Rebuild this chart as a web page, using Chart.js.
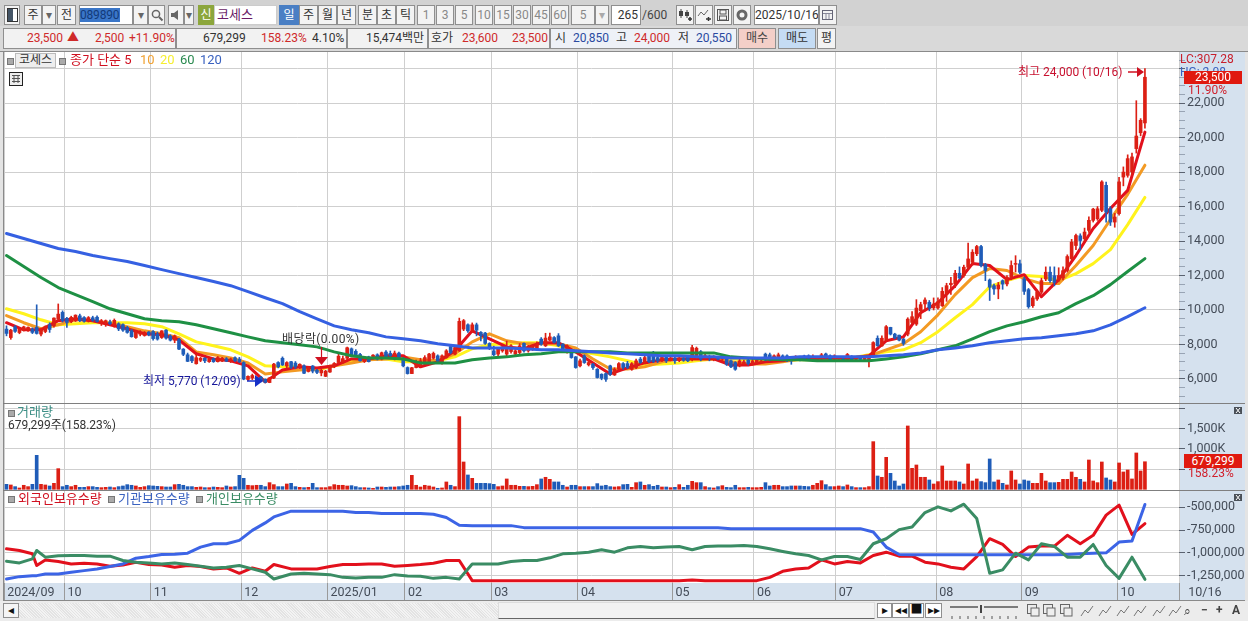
<!DOCTYPE html>
<html lang="ko"><head><meta charset="utf-8"><title>코세스</title>
<script src="https://cdn.jsdelivr.net/npm/chart.js@4"></script>
<style>
html,body{margin:0;padding:0;width:1248px;height:621px;overflow:hidden;background:#e4e4e4;font-family:Roboto,"Noto Sans CJK KR",sans-serif;font-size:12px}
#root{position:absolute;left:0;top:0;width:1248px;height:621px}
canvas{position:absolute;left:0;display:block}
.t{position:absolute;white-space:nowrap;line-height:14px}
.b{position:absolute;box-sizing:border-box;white-space:nowrap;text-align:center;border:1px solid #8f8f8f;background:#f3f3f3;color:#333;line-height:18px;overflow:hidden}
.sq{position:absolute;width:5px;height:5px;background:#aaa;border:1px solid #777}
svg{position:absolute;overflow:visible}
</style></head><body><div id="root">
<canvas id="pricePanel" width="1245" height="352" style="top:52px;width:1245px;height:352px"></canvas>
<canvas id="volumePanel" width="1245" height="86" style="top:404px;width:1245px;height:86px"></canvas>
<canvas id="holdPanel" width="1245" height="109" style="top:491px;width:1245px;height:109px"></canvas>
</div>
<script>
// ---- candle values, one per trading day ----
const opens=[
8890,8400,9020,8690,8830,8830,8890,8990,8600,8750,
9140,9090,9470,9860,9510,9320,9370,9660,9560,9360,
9550,9580,9300,9200,9310,9100,9200,9150,8980,8800,
8400,8600,8520,8720,8750,8600,8400,8830,8490,8250,
8300,7730,7400,7300,6880,7080,7200,7000,7180,7000,
7040,7170,7000,7230,7150,6950,5970,6060,6000,6100,
5980,5790,6060,6950,7200,6750,7000,6920,6700,6760,
6430,6750,6500,6350,6150,6400,6700,6950,7000,7200,
7750,7600,7420,7000,7280,7300,7400,7150,7560,7480,
7180,7500,7150,6660,6310,6660,6760,6850,6950,7200,
7340,6900,7240,7880,7440,7630,8890,9140,8830,9140,
8700,8660,8060,7630,7440,7630,7440,7590,7440,7530,
8060,7630,7730,7790,8310,7920,8250,8400,8500,8020,
7590,7630,7280,6760,7340,6820,6850,6560,6270,6310,
6760,6230,6560,6890,6890,6560,6660,7150,6950,7530,
7440,7240,7100,7250,7100,7200,7060,7200,7280,7150,
7240,7580,7200,7300,7150,7250,7150,7150,7050,6950,
6760,6850,7090,6860,6900,6950,7440,7400,7090,7090,
7340,7340,7240,7130,7240,7330,7340,7120,7100,7160,
7450,7340,7150,7200,7150,7120,7300,7130,7200,7130,
7100,7340,8360,7920,8250,8990,8600,8540,8310,8600,
9280,9180,9960,10350,10440,10120,10120,10250,10930,11470,
11510,12130,11990,12480,12770,13260,13680,12640,11740,11410,
11220,11700,11510,11900,12650,12680,11800,11180,10250,10640,
11030,11800,12190,11990,11750,11860,12290,12970,13740,14300,
14130,14620,15200,15290,15780,17230,15870,15100,15590,17710,
17810,18010,19360,20280,20850];
const highs=[
9080,8880,9100,8900,9060,9020,8960,10300,8920,9080,
9260,9550,10350,9950,9580,9640,9720,9760,9620,9620,
9640,9660,9450,9420,9420,9480,9260,9200,9050,8880,
8820,8800,8750,8750,8800,8720,8800,8860,8560,8550,
8350,7760,7500,7350,7420,7250,7240,7200,7220,7300,
7250,7240,7210,7280,7250,7000,6180,6280,6080,6150,
6000,6080,6900,7000,7280,7000,7020,7010,6880,6820,
6700,6780,6560,6600,6500,6800,6950,7500,7320,7850,
7800,7700,7480,7300,7320,7420,7460,7560,7650,7620,
7620,7560,7250,6700,6680,7100,7200,7350,7480,7560,
7400,7400,7700,7950,7900,9530,9450,9200,9250,9240,
8750,8700,8100,7900,7800,7900,8200,8000,7700,8050,
8100,7950,8000,8150,8400,8650,8660,8450,8630,8050,
7980,7700,7300,7150,7400,7050,6900,6600,6300,6350,
6800,6650,6950,6950,7020,6950,7150,7250,7350,7550,
7600,7300,7350,7300,7280,7250,7260,7240,7340,7950,
7850,7650,7450,7380,7350,7300,7300,7220,7100,7000,
7200,7100,7150,7200,7200,7150,7500,7500,7400,7500,
7400,7400,7300,7350,7300,7380,7400,7400,7300,7480,
7500,7400,7400,7300,7200,7480,7350,7260,7280,7280,
7350,8160,8500,8500,9100,9000,8650,8550,8350,9550,
9900,10600,10450,10700,10550,10700,10700,11300,11550,11900,
12300,12500,12600,13880,13500,13750,13750,12700,11800,11500,
11600,11750,12000,12850,13150,12900,11900,11250,10800,11150,
11850,12500,12500,12500,12450,12500,13200,14100,14400,14420,
14750,15400,15900,16000,17500,17420,16000,15600,17700,18300,
19000,19100,22140,21100,24000];
const lows=[
8500,8300,8700,8620,8780,8750,8630,8600,8500,8680,
8700,9000,9400,9300,8990,9260,9330,9320,9300,9300,
9340,9300,9100,9050,9140,9000,8800,8750,8650,8420,
8350,8500,8480,8500,8250,8250,8350,8300,8200,8100,
7700,7350,7000,6950,6860,7000,6950,6960,6960,6980,
7000,7000,6950,7000,6950,5950,5900,5960,5880,5830,
5770,5780,6020,6640,6780,6600,6600,6600,6600,6300,
6400,6350,6300,6180,6130,6380,6650,6900,6900,7100,
7300,7300,7030,6950,6980,7150,7100,7100,7200,7300,
7100,7200,6700,6280,6300,6640,6700,6800,6850,7150,
7000,6850,7200,7450,7400,7600,8800,8700,8700,8500,
8200,8000,7700,7350,7350,7550,7350,7500,7350,7450,
7550,7550,7650,7700,7950,7880,8200,8080,7880,7600,
7500,7200,6620,6700,6900,6750,6550,6050,5950,5860,
6200,6200,6500,6550,6600,6500,6600,6900,6900,6950,
6950,6950,7000,6950,7050,6900,7000,7020,7000,7050,
7150,7050,7150,7050,7050,7100,7000,6780,6650,6500,
6700,6800,6800,6800,6850,6900,7050,7050,7000,7050,
7050,7000,6850,7080,7050,7100,7100,7060,7040,7100,
7200,7050,7100,7120,7050,7000,7050,7080,7100,7080,
6700,7300,7900,7880,8200,8550,8320,8200,7950,8500,
9200,9100,9500,9950,9950,10000,10050,10200,10500,10900,
11300,11800,11900,12350,12600,13150,12500,11700,10550,10900,
10650,11200,11400,11750,12200,12100,10900,10100,10150,10550,
10950,11700,11600,11400,11650,11750,12200,12900,13500,13500,
13950,14500,15100,15200,15700,15100,14900,14800,15500,17200,
17700,17800,19100,20100,20550];
const closes=[
8640,8830,8760,8880,9020,8990,8700,8640,8890,9030,
8870,9530,9760,9380,9280,9570,9700,9380,9350,9560,
9400,9330,9380,9380,9200,9400,8900,8830,8700,8450,
8780,8720,8700,8560,8340,8310,8790,8370,8250,8500,
7730,7430,7020,7050,7230,7200,7050,7150,7000,7240,
7200,7030,7160,7060,7000,5990,6150,6200,6080,5880,
5800,6060,6860,6700,6810,6950,6680,6700,6850,6330,
6650,6450,6380,6500,6450,6760,6900,7320,7180,7810,
7340,7400,7050,7250,7000,7380,7150,7520,7250,7350,
7500,7250,6760,6310,6650,6990,7050,7240,7440,7480,
7050,7340,7630,7530,7820,9340,9380,8790,9140,8830,
8500,8060,7820,7400,7730,7860,7820,7920,7630,7920,
7630,7820,7920,8020,8020,8370,8440,8120,7920,7670,
7920,7240,6660,7050,6950,6950,6660,6080,6040,5980,
6270,6560,6890,6660,6660,6890,7050,6950,7240,7000,
7010,7050,7250,7050,7220,7050,7200,7080,7050,7820,
7780,7150,7350,7220,7280,7150,7200,6850,6700,6560,
7050,7000,6890,7050,7090,7050,7090,7090,7340,7400,
7090,7120,7050,7280,7090,7150,7200,7300,7230,7400,
7230,7120,7340,7230,7100,7420,7100,7200,7130,7230,
7300,8110,7920,8360,9030,8600,8370,8250,8060,9470,
9610,10110,10310,10580,10120,10350,10480,11080,11410,11550,
12130,11860,12480,12960,13350,13680,12580,12290,11320,11220,
11450,11500,11900,12580,12700,12190,11080,10190,10700,11030,
11700,12190,11700,11600,12000,12280,13100,13940,14320,14030,
14520,15200,15850,15870,17430,15680,15100,15390,17430,18000,
18780,18880,20090,21000,23500];
// ---- volume in thousands of shares ----
const volumeK=[
123,107,66,33,99,66,123,837,123,107,
82,148,509,66,99,66,99,49,49,66,
66,49,41,49,57,41,66,82,115,99,
82,49,66,90,82,74,66,57,57,115,
123,99,66,66,49,57,41,41,57,49,
41,82,57,66,345,271,99,90,99,99,
66,164,115,66,66,131,148,66,49,41,
49,148,41,41,41,66,115,99,99,82,
90,66,41,41,33,25,57,57,49,57,
57,66,82,99,345,99,57,99,82,57,
25,33,181,99,66,1790,673,353,271,148,
148,148,140,123,66,82,255,99,99,74,
74,66,74,115,255,296,246,181,181,99,
57,99,99,66,66,66,66,140,82,99,
66,57,66,115,123,49,164,181,99,115,
74,99,57,57,41,49,115,49,99,197,
164,164,66,41,33,66,90,49,41,99,
41,41,49,41,41,49,164,82,99,99,
66,66,82,82,82,74,66,99,148,213,
115,66,66,82,66,107,66,41,41,41,
66,1174,328,296,788,394,205,82,131,1560,
517,599,296,296,230,131,189,575,205,205,
205,181,131,624,205,255,189,164,747,181,
230,148,107,452,230,131,230,205,148,148,
394,205,164,164,172,246,246,427,296,246,
181,722,205,164,673,279,230,181,649,427,
476,255,895,452,679.299];
// ---- moving averages, read every fourth trading day ----
const lineDays=[0,4,8,12,16,20,24,28,32,36,40,44,48,52,56,60,64,68,72,76,80,84,88,92,96,100,104,108,112,116,120,124,128,132,136,140,144,148,152,156,160,164,168,172,176,180,184,188,192,196,200,204,208,212,216,220,224,228,232,236,240,244,248,252,256,260,264];
const ma5=[9260,8850,8850,9380,9490,9380,9140,8910,8620,8560,
8270,7460,7160,7050,6760,5830,6520,6700,6640,6760,
7160,7160,7340,7340,6700,6990,7630,8790,8330,7860,
7750,8100,8100,7570,6930,6290,6640,6930,7110,7160,
7160,7160,6810,6810,6990,7050,7220,7220,7220,7220,
7340,8210,8440,9840,10420,11410,12690,12580,11760,12050,
10770,11760,13160,14730,15890,16940,20320];
const ma10=[9670,9260,8910,9140,9430,9380,9200,9030,8790,8620,
8390,7570,7400,7220,6930,6290,6410,6520,6580,6760,
6930,7110,7160,7280,7110,7050,7460,8150,8620,8210,
8040,8040,8040,7800,7160,6580,6580,6700,6990,7160,
7220,7220,6990,6870,6870,6990,7160,7160,7160,7220,
7340,7690,8040,8740,9720,10890,11880,12400,12290,11820,
11530,11530,12580,13740,15250,16710,18400];
const ma20=[10070,9780,9430,9140,9200,9260,9260,9260,9200,9030,
8620,8150,7920,7690,7280,6760,6700,6700,6520,6760,
7050,7160,7160,6990,6990,7050,7280,7750,7980,8040,
8100,8100,7920,7630,7460,7280,7050,6810,6870,6930,
7050,7160,7160,7110,7050,7050,7110,7110,7160,7220,
7400,7570,7690,8100,8740,9550,10310,11350,11700,12000,
11940,11700,12110,12690,13500,14950,16530];
const ma60=[13160,12520,11880,11300,10890,10480,10070,9780,9490,9380,
9320,9140,8910,8680,8440,8210,8100,7980,7860,7570,
7340,7220,7220,7160,6930,6930,6930,7110,7220,7280,
7400,7460,7570,7570,7570,7570,7510,7510,7510,7510,
7510,7510,7280,7220,7160,7110,7110,7050,7050,7050,
7050,7160,7280,7460,7690,7920,8330,8740,9080,9320,
9610,9840,10370,10830,11470,12230,12980];
const ma120=[14440,14150,13860,13570,13390,13160,12980,12810,12580,12340,
12110,11880,11650,11410,11060,10710,10370,9900,9490,9080,
8850,8680,8440,8330,8210,8040,7920,7800,7800,7800,
7750,7690,7690,7630,7570,7510,7460,7400,7340,7340,
7280,7280,7220,7220,7220,7220,7280,7280,7280,7280,
7280,7340,7400,7510,7690,7800,7920,8100,8210,8330,
8390,8500,8620,8790,9140,9610,10130];
// ---- holdings in thousands of shares ----
const holdDays=[0,3,6,7,9,12,15,18,21,24,
27,30,33,36,39,42,45,48,51,54,
57,60,62,66,69,72,75,78,81,84,
87,90,93,96,99,102,105,108,111,114,
117,120,123,126,129,132,135,138,141,144,
147,150,153,156,159,162,165,168,171,174,
177,180,183,186,189,192,195,198,201,204,
207,210,213,216,219,222,225,228,231,234,
237,240,243,246,249,252,255,258,261,264];
const foreignHold=[-956,-974,-1011,-1140,-1078,-1096,-1122,-1114,-1122,-1148,
-1133,-1103,-1129,-1133,-1159,-1140,-1151,-1177,-1166,-1225,
-1166,-1203,-1129,-1177,-1177,-1177,-1151,-1129,-1129,-1122,
-1122,-1148,-1140,-1129,-1114,-1085,-1085,-1306,-1306,-1306,
-1306,-1306,-1306,-1306,-1306,-1306,-1306,-1306,-1306,-1306,
-1306,-1306,-1306,-1306,-1300,-1306,-1306,-1306,-1306,-1306,
-1270,-1203,-1177,-1166,-1078,-1122,-1096,-1111,-1030,-993,
-1037,-1037,-1103,-1122,-1159,-1177,-1041,-845,-908,-1041,
-937,-926,-926,-808,-900,-808,-586,-476,-797,-679];
const institutionHold=[-1288,-1262,-1251,-1251,-1233,-1233,-1214,-1196,-1177,-1151,
-1122,-1059,-1041,-1018,-1015,-1004,-937,-900,-900,-863,
-753,-671,-605,-542,-542,-542,-542,-542,-557,-557,
-568,-568,-568,-568,-575,-612,-697,-701,-701,-701,
-701,-723,-723,-723,-723,-723,-723,-723,-723,-723,
-723,-723,-723,-723,-723,-723,-723,-734,-734,-734,
-734,-734,-734,-734,-734,-734,-734,-734,-771,-937,
-1018,-1022,-1022,-1022,-1022,-1022,-1022,-1022,-1022,-1022,
-1022,-1022,-1022,-1018,-1011,-1004,-1000,-882,-871,-468];
const individualHold=[-1092,-1111,-1066,-974,-1048,-1033,-1030,-1030,-1037,-1037,
-1085,-1103,-1111,-1122,-1111,-1129,-1148,-1166,-1159,-1140,
-1177,-1214,-1288,-1233,-1225,-1233,-1240,-1270,-1277,-1270,
-1270,-1240,-1255,-1258,-1281,-1270,-1288,-1122,-1122,-1122,
-1096,-1085,-1085,-1055,-1011,-1004,-993,-967,-993,-945,
-930,-945,-937,-930,-967,-930,-926,-926,-919,-930,
-956,-985,-1011,-1030,-1078,-1041,-1041,-1074,-900,-845,
-745,-716,-557,-494,-539,-465,-623,-1225,-1188,-1004,
-1078,-900,-930,-1048,-1048,-908,-1140,-1281,-1048,-1292];
// ---- axes ----
const monthTicks=[-0.55,13.4,33.4,54.4,74.4,92.4,112.4,132.5,154.4,173.3,192.3,215.6,235.4,257.6,271.9];
const monthLabels=[' 2024/09',' 10',' 11',' 12',' 2025/01',' 02',' 03',' 04',' 05',' 06',' 07',' 08',' 09',' 10','   10/16'];
const priceLabels=[6000,8000,10000,12000,14000,16000,18000,20000,22000];
const priceGrid=[6000,8000,10000,12000,14000,16000,18000,20000,22000,24000];
const priceMinor=[5000,5500,6500,7000,7500,8500,9000,9500,10500,11000,11500,12500,13000,13500,14500,15000,15500,16500,17000,17500,18500,19000,19500,20500,21000,21500,22500,23000,23500,24500];
const volumeTicks=[500,1000,1500,2000];
const volumeLabels=[1000,1500];
const holdTicks=[-500,-750,-1000,-1250];

const RED='#dc1f14',BLUE='#1f5cb8',GRID='#cfcfcf',AXISBG='#d5e1ee',AXISTXT='#444c58';
const FONT='Roboto,"Noto Sans CJK KR",sans-serif';
Chart.defaults.font.family=FONT;Chart.defaults.font.size=12;Chart.defaults.color=AXISTXT;
const up=i=>closes[i]>=opens[i];
const days=closes.map((_,i)=>i);
const colors=days.map(i=>up(i)?RED:BLUE);
const xMin=-0.58,xMax=271.9;
const noPad=s=>{s.paddingTop=s.paddingBottom=s.paddingLeft=s.paddingRight=0};
const axisBg={id:'axisBg',beforeDraw(c){const g=c.ctx,a=c.chartArea;g.save();
  g.fillStyle='#fff';g.fillRect(a.left,a.top,a.right-a.left,a.bottom-a.top);
  g.fillStyle=AXISBG;g.fillRect(a.right,0,c.width-a.right,c.height);
  if(c.height>a.bottom)g.fillRect(a.left,a.bottom,c.width-a.left,c.height-a.bottom);
  g.fillStyle='#e4e4e4';g.fillRect(0,0,a.left,c.height);
  g.fillStyle='#8a8a8a';g.fillRect(a.left-1,0,1,c.height);g.fillRect(a.right,0,1,c.height);
  g.restore();}};
const xAxis=(show)=>({type:'linear',min:xMin,max:xMax,offset:false,
  afterBuildTicks:s=>{s.ticks=monthTicks.map(value=>({value}))},
  afterFit:s=>{s.height=show?17:0;noPad(s)},
  grid:{offset:false,color:GRID,drawTicks:show,tickLength:17,tickColor:'#9a9a9a'},border:{display:false},
  ticks:{display:show,autoSkip:false,maxRotation:0,minRotation:0,align:'start',padding:-15,color:AXISTXT,font:{size:12.5},
    callback:v=>monthLabels[monthTicks.indexOf(v)]??''}});
const yAxis=(o)=>Object.assign({position:'right',afterFit:s=>{s.width=66;noPad(s)},border:{display:false},
  ticks:{autoSkip:false,padding:3,color:AXISTXT,font:{size:12.5}}},o);
const base={responsive:false,animation:false,devicePixelRatio:1,events:[],
  layout:{padding:{left:4,right:0,top:0,bottom:0}},plugins:{legend:{display:false},tooltip:{enabled:false}}};
const line=(label,xs,ys,color,order)=>({type:'line',label,data:xs.map((x,i)=>({x,y:ys[i]})),borderColor:color,borderWidth:3,pointRadius:0,tension:0,borderJoinStyle:'round',borderCapStyle:'round',order,yAxisID:'y'});

new Chart(document.getElementById('pricePanel'),{type:'bar',plugins:[axisBg],
 data:{datasets:[
  line('120',lineDays,ma120,'#3560e2',1),
  line('60',lineDays,ma60,'#1e9044',2),
  {label:'고저',data:days.map(i=>({x:i,y:[lows[i],highs[i]]})),backgroundColor:colors,barThickness:1,grouped:false,order:4},
  {label:'시종',data:days.map(i=>({x:i,y:[opens[i],closes[i]]})),backgroundColor:colors,barThickness:3,grouped:false,order:3},
  line('5',lineDays,ma5,'#e2101c',5),
  line('10',lineDays,ma10,'#f39a23',6),
  line('20',lineDays,ma20,'#fff31c',7)
 ]},
 options:{...base,scales:{x:xAxis(false),
  y:yAxis({min:4546,max:24965,
   afterBuildTicks:s=>{s.ticks=[...priceGrid,...priceMinor].sort((a,b)=>a-b).map(value=>({value}))},
   grid:{tickLength:6,color:c=>priceGrid.includes(c.tick.value)?GRID:'rgba(0,0,0,0)',tickColor:c=>priceGrid.includes(c.tick.value)?'#5a6270':'#98a4b4'},
   ticks:{autoSkip:false,padding:2,color:AXISTXT,font:{size:12.5},callback:v=>priceLabels.includes(v)?v.toLocaleString('en-US'):''}})}}});

new Chart(document.getElementById('volumePanel'),{type:'bar',plugins:[axisBg],
 data:{datasets:[{label:'거래량',data:days.map(i=>({x:i,y:volumeK[i]})),backgroundColor:colors,barThickness:3}]},
 options:{...base,scales:{x:xAxis(false),
  y:yAxis({min:-17,max:2101,
   afterBuildTicks:s=>{s.ticks=volumeTicks.map(value=>({value}))},
   grid:{tickLength:6,color:GRID,tickColor:'#5a6270'},
   ticks:{autoSkip:false,padding:2,color:AXISTXT,font:{size:12.5},callback:v=>volumeLabels.includes(v)?v.toLocaleString('en-US')+'K':''}})}}});

new Chart(document.getElementById('holdPanel'),{type:'line',plugins:[axisBg],
 data:{datasets:[
  line('개인보유수량',holdDays,individualHold,'#3a8c64',1),
  line('기관보유수량',holdDays,institutionHold,'#3c64e6',2),
  line('외국인보유수량',holdDays,foreignHold,'#e2101c',3)
 ]},
 options:{...base,scales:{x:xAxis(true),
  y:yAxis({min:-1332,max:-320,
   afterBuildTicks:s=>{s.ticks=holdTicks.map(value=>({value}))},
   grid:{tickLength:6,color:GRID,tickColor:'#5a6270'},
   ticks:{autoSkip:false,padding:2,color:AXISTXT,font:{size:12.5},callback:v=>(v*1000).toLocaleString('en-US')}})}}});

// ---- window chrome, legends and captions (real text) ----
const root=document.getElementById('root');
function el(cls,x,y,w,h,txt,css){const d=document.createElement('div');d.className=cls;d.style.left=x+'px';d.style.top=y+'px';
  if(w)d.style.width=w+'px';if(h)d.style.height=h+'px';if(txt!=null)d.textContent=txt;if(css)d.style.cssText+=';'+css;root.appendChild(d);return d;}
const btn=(x,w,txt,css)=>el('b',x,5,w,20,txt,css);
const txt=(x,y,s,color,css)=>el('t',x,y,0,0,s,'color:'+color+';width:auto;height:auto;'+(css||''));
function svg(x,y,w,h,inner){const d=document.createElement('div');d.innerHTML=`<svg style="left:${x}px;top:${y}px" width="${w}" height="${h}" viewBox="0 0 ${w} ${h}">${inner}</svg>`;root.appendChild(d.firstChild);}
const K13='font-size:13px;';
// top bars
el('t',0,0,1248,52,null,'background:#d2d2d2');
el('t',0,26,1248,26,null,'background:#d9d9d9');
el('t',0,51,1248,1,null,'background:#8a8a8a');
el('t',3,403,1242,1,null,'background:#7f7f7f');
el('t',3,490,1242,1,null,'background:#7f7f7f');
el('t',3,600,1242,1,null,'background:#8a8a8a');
btn(4,16,'',"");svg(7,8,11,14,'<rect x=".5" y=".5" width="10" height="13" fill="#fff" stroke="#333"/><rect x="1" y="1" width="5" height="12" fill="#456"/>');
btn(24,18,'주');btn(42,14,'▾','color:#666');btn(57,19,'전');
btn(79,54,'','background:#fff');el('t',80,8,40,14,'089890','background:#3a76c8;color:#123a7a;letter-spacing:-.2px');
btn(133,15,'▾','color:#666');btn(148,17,'');svg(151,9,12,12,'<circle cx="5" cy="5" r="3.6" fill="none" stroke="#666" stroke-width="1.5"/><path d="M8 8l3.5 3.5" stroke="#666" stroke-width="2"/>');
btn(168,16,'');svg(171,10,10,10,'<path d="M0 3h3l4-3v10l-4-3H0z" fill="#666"/>');btn(184,10,'▾','color:#666');
btn(198,16,'신','background:#8ca63c;color:#fff;border-color:#8ca63c');
btn(214,63,'코세스','background:#fff;color:#6a1b66;text-align:left;padding-left:2px;border-color:#ccc;'+K13);
btn(279,20,'일','background:#4a7fc4;color:#fff;border-color:#4a7fc4');
[['주',299],['월',318],['년',337],['분',358],['초',377],['틱',396]].forEach(([s,x])=>btn(x,19,s));
[['1',417],['3',436],['5',455],['10',475],['15',494],['30',513],['45',532],['60',551]].forEach(([s,x])=>btn(x,18,s,'color:#888'));
btn(571,24,'5','color:#888');btn(595,14,'▾','color:#aaa');
btn(611,30,'265','background:#fff;text-align:right;padding-right:2px');txt(642,8,'/600','#444');
[676,695,714,733].forEach(x=>btn(x,18,''));
svg(679,9,13,12,'<path d="M2 0v9M8 1v8" stroke="#444"/><rect x="0" y="2" width="4" height="5" fill="#444"/><rect x="6" y="3" width="4" height="4" fill="#444"/><path d="M9 10h4M11 8v4" stroke="#333" stroke-width="1.5"/>');
svg(698,9,13,12,'<path d="M0 7l3-4 3 3 4-5" fill="none" stroke="#666"/><path d="M8 10h5M10.5 8v4" stroke="#333" stroke-width="1.5"/>');
svg(717,9,12,12,'<rect x=".5" y=".5" width="11" height="11" fill="none" stroke="#555"/><rect x="3" y="1" width="6" height="4" fill="none" stroke="#555"/><rect x="2.5" y="7" width="7" height="4" fill="none" stroke="#555"/>');
svg(736,9,12,12,'<circle cx="6" cy="6" r="4" fill="none" stroke="#666" stroke-width="3"/>');
btn(754,65,'2025/10/16','background:#fff');btn(819,18,'');svg(822,10,11,10,'<rect x=".5" y=".5" width="10" height="9" fill="none" stroke="#667"/><path d="M1 3.5h9M4 3v6M7 3v6" stroke="#889"/>');
// quote bar
const quote=(x,w,bg)=>el('b',x,28,w,21,'','background:'+(bg||'#f2f2f2'));
quote(3,173);quote(176,171);quote(347,81);quote(428,122);quote(550,187,'#eef1f7');
el('b',738,28,38,21,'매수','background:#f4cfc8;color:#444');
el('b',778,28,38,21,'매도','background:#c5dcf4;color:#333');
el('b',817,28,19,21,'평','');
const Q=31;
txt(27,Q,'23,500','#cf2a2a');txt(67,Q,'▲','#cf2a2a');txt(95,Q,'2,500','#cf2a2a');txt(129,Q,'+11.90%','#cf2a2a');
txt(203,Q,'679,299','#333');txt(261,Q,'158.23%','#cf2a2a');txt(312,Q,'4.10%','#333');txt(366,Q,'15,474백만','#333');
txt(431,Q,'호가','#333');txt(462,Q,'23,600','#cf2a2a');txt(512,Q,'23,500','#cf2a2a');
txt(555,Q,'시','#333');txt(573,Q,'20,850','#2a4aa0');txt(616,Q,'고','#333');txt(634,Q,'24,000','#cf2a2a');txt(678,Q,'저','#333');txt(696,Q,'20,550','#2a4aa0');
// price panel legend
el('sq',7,58);el('b',15,53,41,15,'코세스','line-height:13px;background:#eee;border-color:#bbb');el('sq',59,58);
txt(70,53,'종가 단순 5','#d01020',K13);txt(140,53,'10','#f0a030',K13);txt(160,53,'20','#f6ee30',K13);txt(180,53,'60','#2a8a50',K13);txt(200,53,'120','#3a62c0',K13);
svg(9,72,14,14,'<rect x=".5" y=".5" width="13" height="13" fill="#eee" stroke="#222"/><path d="M3 3.5h8M3 6.5h8M3 9.5h8M5 3v8M9 3v8" stroke="#555"/>');
// price panel tags
txt(1180,52,'LC:307.28','#c8202c');txt(1180,65,'HG: 2.08','#3a62c0');
el('t',1184,71,58,13,'23,500','background:#e0190f;color:#fff;text-align:center;line-height:13px');
txt(1188,83,'11.90%','#d0202c');
// price panel captions
txt(1018,65,'최고 24,000 (10/16)','#c8102e');
svg(1128,66,18,12,'<path d="M0 6h11" stroke="#d01020" stroke-width="1.5"/><path d="M9 1l7 5-7 5z" fill="#d01020"/>');
txt(143,374,'최저 5,770 (12/09)','#16169a');
svg(247,375,18,12,'<path d="M0 6h10" stroke="#1530c8" stroke-width="1.5"/><path d="M8 0l8 6-8 6z" fill="#1530c8"/>');
txt(282,332,'배당락(0.00%)','#333','letter-spacing:.4px');
svg(315,347,13,19,'<path d="M6.5 0v12" stroke="#d01020" stroke-width="1.2"/><path d="M0 10h13l-6.5 8z" fill="#d01020"/>');
// volume panel
el('sq',8,410);txt(17,405,'거래량','#3d8f86',K13);txt(8,418,'679,299주(158.23%)','#333');
el('t',1184,454,58,14,'679,299','background:#e0190f;color:#fff;text-align:center;line-height:14px');
txt(1188,466,'158.23%','#d0202c');
// holdings panel legend
el('sq',8,496);txt(18,492,'외국인보유수량','#d01020',K13);el('sq',108,496);txt(118,492,'기관보유수량','#3a62c0',K13);el('sq',196,496);txt(206,492,'개인보유수량','#3a8c64',K13);
[407,494].forEach(y=>{el('t',1234,y,8,7,null,'background:#4a5058');svg(1236,y+1,4,5,'<path d="M0 0l4 5M4 0L0 5" stroke="#fff"/>');});
// bottom scroller
el('t',0,601,1248,20,null,'background:#ececec');
el('b',3,603,16,15,'◂','line-height:13px;color:#111;background:#f5f5f5');
el('t',19,603,479,15,null,'background:repeating-linear-gradient(45deg,#e3e3e3 0 1px,#f3f3f3 1px 2px)');
el('b',498,602,377,17,'','background:#f2f2f2;border-color:#ddd;border-bottom:1px solid #666');
[['▸',877],['◂◂',892],['■',909],['▸▸',925]].forEach(([s,x])=>el('b',x,603,x===892||x===925?17:15,15,s,'line-height:13px;color:#111;background:#fff'));
svg(950,605,68,14,'<path d="M0 2h28M34 2h34" stroke="#555" stroke-width="1.5"/><path d="M31 0v8" stroke="#444" stroke-width="2"/><path d="M2 11v3M10 11v3M18 11v3M26 11v3M34 11v3M42 11v3M50 11v3M58 11v3M66 11v3" stroke="#555"/>');
[1027,1043,1060].forEach(x=>svg(x,604,13,13,'<rect x=".5" y=".5" width="9" height="9" fill="none" stroke="#666"/><rect x="4" y="4" width="8" height="8" fill="#eee" stroke="#666"/>'));
[1080,1098,1116,1133,1152,1168].forEach(x=>svg(x,604,15,13,'<path d="M1 12l4-6 3 3 5-7" fill="none" stroke="#777"/>'));
txt(1184,604,'⌕','#444');txt(1201,603,'−','#444','font-weight:700');txt(1216,603,'+','#444','font-weight:700');txt(1232,603,'A','#444','font-weight:700');
</script></body></html>
